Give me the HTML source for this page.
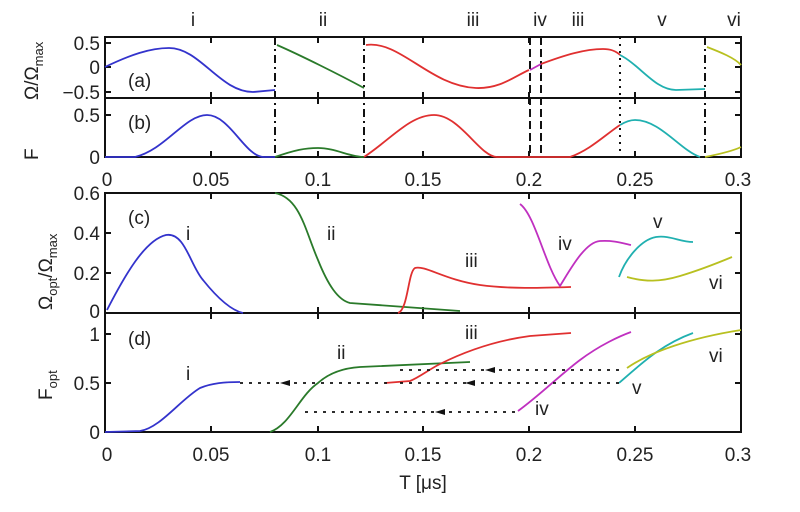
<!DOCTYPE html>
<html><head><meta charset="utf-8"><style>
html,body{margin:0;padding:0;background:#fff}
svg{display:block}
text{font-family:"Liberation Sans",sans-serif;fill:#222}
</style></head><body>
<svg width="800" height="512" viewBox="0 0 800 512" xmlns="http://www.w3.org/2000/svg">
<g font-size="19" text-anchor="middle" fill="#444">
<text x="193" y="26" fill="#555">i</text><text x="323" y="26" fill="#555">ii</text>
<text x="473" y="26" fill="#555">iii</text><text x="540" y="26">iv</text>
<text x="578" y="26" fill="#555">iii</text><text x="662" y="26">v</text><text x="734" y="26">vi</text>
</g>
<!-- frames -->
<g fill="none" stroke="#111" stroke-width="2">
<rect x="105" y="37" width="636" height="120"/>
<line x1="105" y1="98" x2="741" y2="98"/>
<rect x="105" y="193" width="636" height="239"/>
<line x1="105" y1="313" x2="741" y2="313"/>
</g>
<!-- ticks -->
<g stroke="#111" stroke-width="2">
<path d="M211 37v6M318 37v6M423 37v6M529 37v6M635 37v6M211 98v-6M318 98v-6M423 98v-6M529 98v-6M635 98v-6M211 98v6M318 98v6M423 98v6M529 98v6M635 98v6M211 157v-6M318 157v-6M423 157v-6M529 157v-6M635 157v-6"/>
<path d="M105 43h6M105 67h6M105 92h6M741 43h-6M741 67h-6M741 92h-6M105 115h6M741 115h-6"/>
<path d="M211 193v6M318 193v6M423 193v6M529 193v6M635 193v6M211 313v-6M318 313v-6M423 313v-6M529 313v-6M635 313v-6M211 313v6M318 313v6M423 313v6M529 313v6M635 313v6M211 432v-6M318 432v-6M423 432v-6M529 432v-6M635 432v-6"/>
<path d="M105 233h6M105 273h6M741 233h-6M741 273h-6M105 334h6M105 383h6M741 334h-6M741 383h-6"/>
</g>
<g font-size="19" text-anchor="end">
<text x="100" y="50">0.5</text><text x="100" y="74">0</text><text x="100" y="99">−0.5</text>
<text x="100" y="122">0.5</text><text x="100" y="164">0</text>
<text x="100" y="200">0.6</text><text x="100" y="240">0.4</text><text x="100" y="280">0.2</text><text x="100" y="318">0</text>
<text x="100" y="341">1</text><text x="100" y="390">0.5</text><text x="100" y="439">0</text>
</g>
<g font-size="19" text-anchor="middle">
<text x="107" y="186">0</text><text x="211" y="186">0.05</text><text x="318" y="186">0.1</text><text x="423" y="186">0.15</text><text x="529" y="186">0.2</text><text x="635" y="186">0.25</text><text x="738" y="186">0.3</text>
<text x="107" y="461">0</text><text x="211" y="461">0.05</text><text x="318" y="461">0.1</text><text x="423" y="461">0.15</text><text x="529" y="461">0.2</text><text x="635" y="461">0.25</text><text x="738" y="461">0.3</text>
<text x="423" y="489">T [μs]</text>
</g>
<g font-size="19">
<text x="128" y="87">(a)</text><text x="128" y="129">(b)</text>
<text x="128" y="224">(c)</text><text x="128" y="345">(d)</text>
</g>
<text font-size="19" transform="translate(38,160) rotate(-90)">F</text>
<text font-size="19" transform="translate(38,100) rotate(-90)">Ω/Ω<tspan font-size="13" dy="5">max</tspan></text>
<text font-size="19" transform="translate(52,310) rotate(-90)">Ω<tspan font-size="13" dy="5">opt</tspan><tspan dy="-5">/Ω</tspan><tspan font-size="13" dy="5">max</tspan></text>
<text font-size="19" transform="translate(52,400) rotate(-90)">F<tspan font-size="13" dy="5">opt</tspan></text>
<!-- vertical separators -->
<g stroke="#111" stroke-width="2" fill="none">
<path d="M275 37V157M364 37V157M705 37V157" stroke-dasharray="8,4,2,4"/>
<path d="M530 37V157M541 37V157" stroke-dasharray="8,4"/>
<path d="M620 37V157" stroke-dasharray="2,5"/>
</g>
<!-- panel a -->
<g fill="none" stroke-width="1.8">
<path d="M105 67C130 55 150 48 169 48C200 48 220 92 253 92L275 90" stroke="#3333cc"/>
<path d="M277 45C300 55 340 75 364 88" stroke="#2a7a2a"/>
<path d="M366 45C400 40 430 86 476 88C500 89 515 76 529 70" stroke="#e03030"/>
<path d="M530 70L541 64" stroke="#c030c0"/>
<path d="M541 64C565 55 585 49 603 49C612 49 617 52 620 55" stroke="#e03030"/>
<path d="M620 55C640 65 655 90 676 90L705 89" stroke="#20b0b0"/>
<path d="M707 47C720 52 735 58 741 65" stroke="#b8c020"/>
</g>
<!-- panel b -->
<g fill="none" stroke-width="1.8">
<path d="M105 157L135 157C165 150 185 115 207 115C230 115 245 157 264 157L275 157" stroke="#3333cc"/>
<path d="M275 157C295 150 305 148 318 148C335 148 350 157 364 157" stroke="#2a7a2a"/>
<path d="M364 157C390 140 410 115 434 115C460 115 480 157 497 157L570 157C590 150 605 135 620 125" stroke="#e03030"/>
<path d="M620 125C625 122 630 120 635 120C660 120 680 150 700 157" stroke="#20b0b0"/>
<path d="M705 157C720 154 735 150 741 147" stroke="#b8c020"/>
</g>
<!-- panel c -->
<g fill="none" stroke-width="1.8">
<path d="M107 310C125 275 145 240 166 235C185 232 190 265 203 280C215 295 230 310 243 313" stroke="#3333cc"/>
<path d="M275 193C300 198 305 230 318 260C328 285 338 300 350 303L460 311" stroke="#2a7a2a"/>
<path d="M398 313C408 310 408 272 415 268C425 265 445 280 480 285C510 289 540 288 571 287" stroke="#e03030"/>
<path d="M520 204C535 215 545 265 560 286C570 270 585 242 600 241C615 240 625 244 631 245" stroke="#c030c0"/>
<path d="M619 277C625 260 640 240 656 237C670 235 680 242 693 242" stroke="#20b0b0"/>
<path d="M627 277C645 282 660 282 680 276C700 270 720 262 732 257" stroke="#b8c020"/>
</g>
<!-- panel d -->
<g fill="none" stroke-width="1.8">
<path d="M105 432L140 431C160 428 180 400 200 388C212 383 225 382 240 382" stroke="#3333cc"/>
<path d="M270 432C290 425 300 395 318 383C330 372 345 368 360 367L470 362" stroke="#2a7a2a"/>
<path d="M385 383L410 381C420 377 428 370 440 364C470 349 500 340 530 336L571 333" stroke="#e03030"/>
<path d="M518 411C540 395 560 375 580 360C600 345 620 336 631 332" stroke="#c030c0"/>
<path d="M619 383C640 365 660 345 693 333" stroke="#20b0b0"/>
<path d="M627 368C650 352 690 338 741 330" stroke="#b8c020"/>
</g>
<g stroke="#111" stroke-width="1.8" fill="none" stroke-dasharray="3,6">
<path d="M240 383H390M400 383H619M400 370H620M305 412H518"/>
</g>
<g fill="#111">
<path d="M280 383l10-3v6z"/><path d="M485 370l10-3v6z"/><path d="M465 383l10-3v6z"/><path d="M435 412l10-3v6z"/>
</g>
<g font-size="19" fill="#444">
<text x="186" y="240">i</text><text x="327" y="240">ii</text><text x="465" y="267">iii</text>
<text x="558" y="250">iv</text><text x="653" y="228">v</text><text x="709" y="289">vi</text>
<text x="186" y="380">i</text><text x="337" y="359">ii</text><text x="465" y="339">iii</text>
<text x="535" y="415">iv</text><text x="632" y="394">v</text><text x="709" y="362">vi</text>
</g>
</svg>
</body></html>
